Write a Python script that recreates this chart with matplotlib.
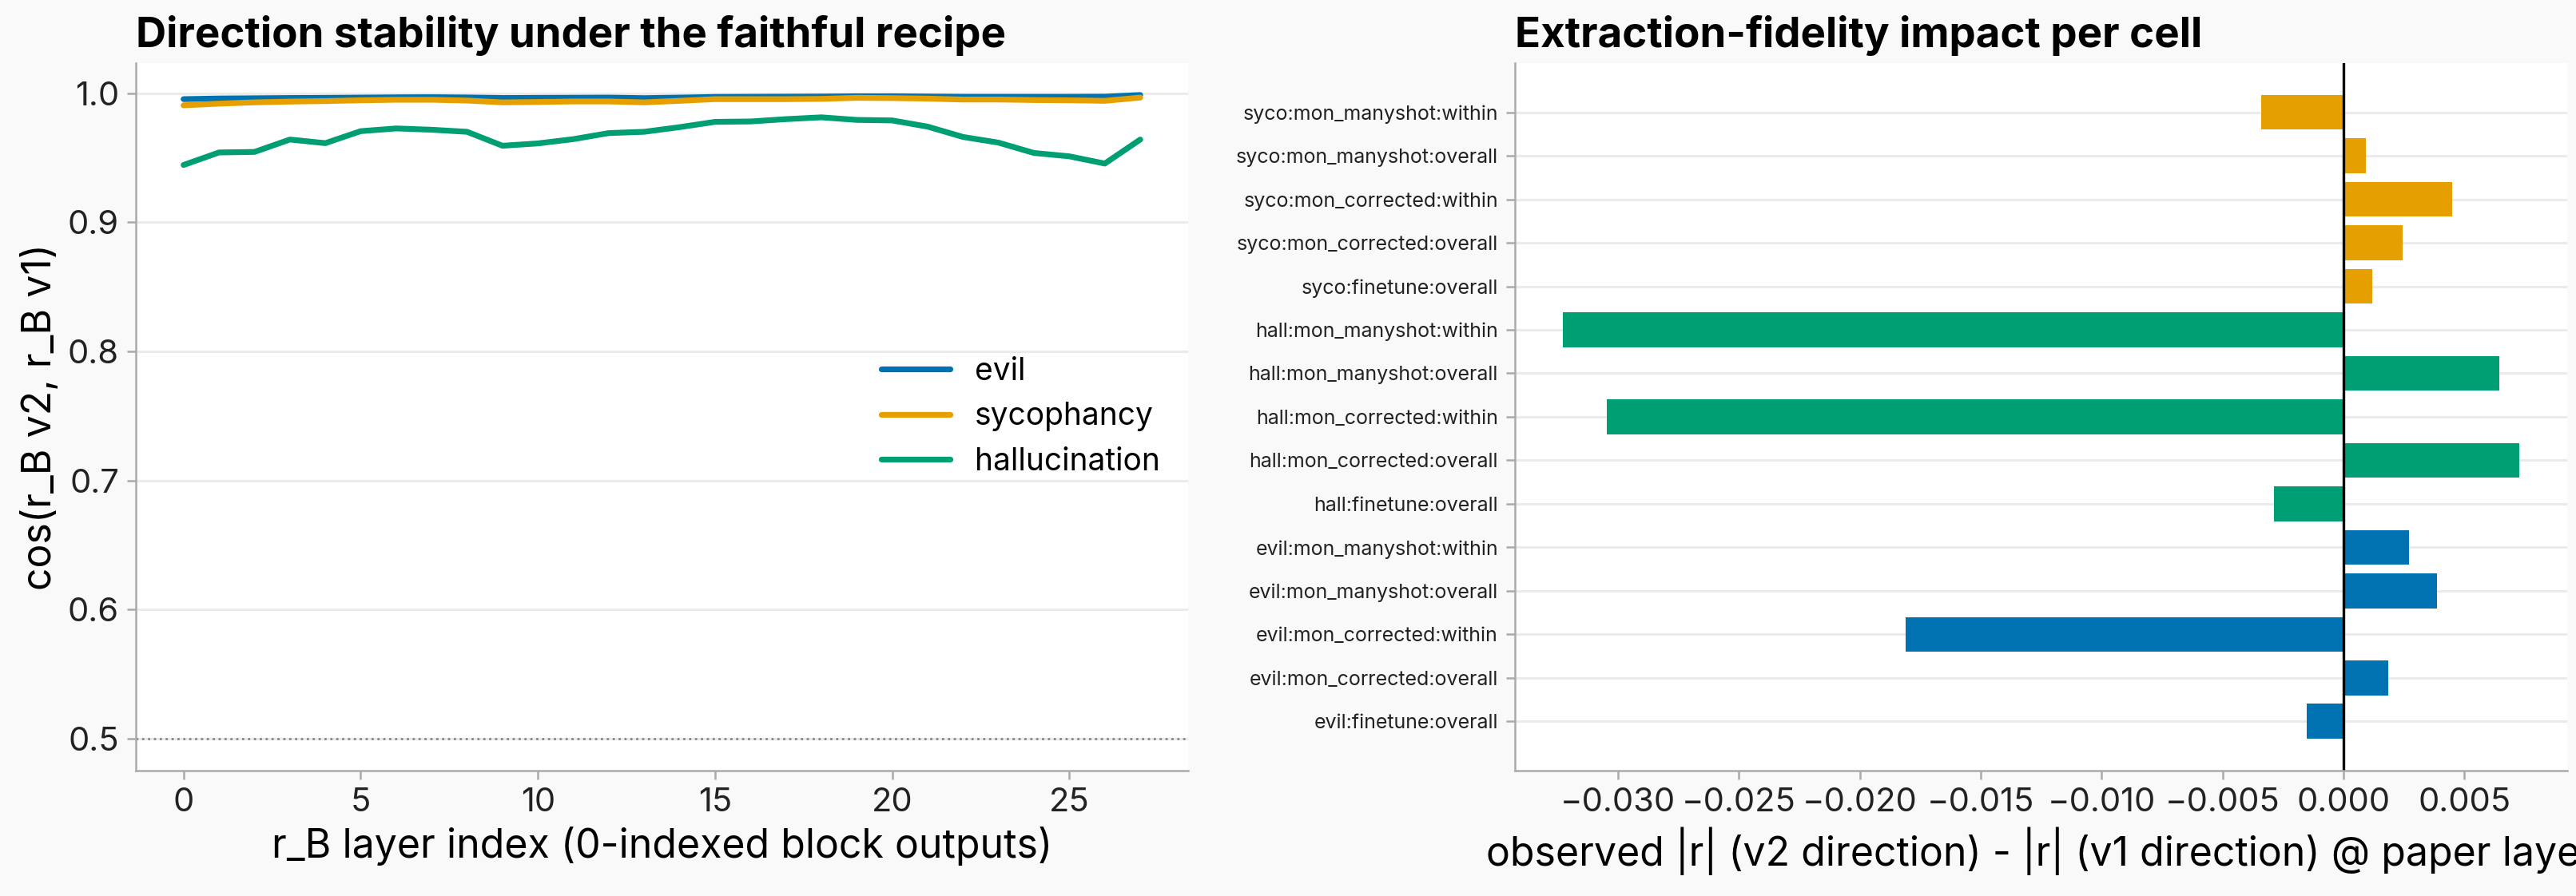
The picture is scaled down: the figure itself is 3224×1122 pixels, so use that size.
import numpy as np
import matplotlib
matplotlib.use("Agg")
import matplotlib.pyplot as plt

# --- DATA ---
layers = list(range(28))

cos_evil = [0.9953, 0.9958, 0.9960, 0.9962, 0.9963, 0.9965, 0.9967, 0.9968, 0.9966, 0.9962,
            0.9963, 0.9964, 0.9965, 0.9961, 0.9965, 0.9970, 0.9971, 0.9972, 0.9973, 0.9975,
            0.9975, 0.9973, 0.9971, 0.9971, 0.9971, 0.9971, 0.9972, 0.9985]
cos_syco = [0.9905, 0.9918, 0.9928, 0.9934, 0.9938, 0.9944, 0.9948, 0.9948, 0.9942, 0.9928,
            0.9931, 0.9935, 0.9935, 0.9928, 0.9940, 0.9953, 0.9953, 0.9953, 0.9955, 0.9963,
            0.9961, 0.9957, 0.9950, 0.9950, 0.9946, 0.9944, 0.9940, 0.9965]
cos_hall = [0.9443, 0.9540, 0.9544, 0.9640, 0.9612, 0.9705, 0.9726, 0.9716, 0.9700, 0.9592,
            0.9610, 0.9643, 0.9690, 0.9700, 0.9736, 0.9777, 0.9780, 0.9798, 0.9812, 0.9792,
            0.9788, 0.9740, 0.9660, 0.9616, 0.9536, 0.9510, 0.9454, 0.9640]

# bottom to top
cells = ["evil:finetune:overall", "evil:mon_corrected:overall", "evil:mon_corrected:within",
         "evil:mon_manyshot:overall", "evil:mon_manyshot:within", "hall:finetune:overall",
         "hall:mon_corrected:overall", "hall:mon_corrected:within", "hall:mon_manyshot:overall",
         "hall:mon_manyshot:within", "syco:finetune:overall", "syco:mon_corrected:overall",
         "syco:mon_corrected:within", "syco:mon_manyshot:overall", "syco:mon_manyshot:within"]
delta_r = [-0.00153, 0.00185, -0.0181, 0.00386, 0.00273, -0.00288,
           0.00728, -0.03047, 0.00644, -0.0323, 0.0012, 0.00244,
           0.00451, 0.00094, -0.00339]
cell_trait = [c.split(":")[0] for c in cells]

# --- STYLE ---
plt.rcParams['font.family'] = ['Inter', 'DejaVu Sans']
BLUE, ORANGE, GREEN = "#0072B2", "#E69F00", "#009E73"
trait_colors = {"evil": BLUE, "syco": ORANGE, "hall": GREEN}
BG = "#f9f9f9"
GRID = "#ebebeb"
SPINE = "#aaaaaa"


def style_axes(ax):
    ax.set_facecolor("white")
    for side in ("top", "right"):
        ax.spines[side].set_visible(False)
    for side in ("left", "bottom"):
        ax.spines[side].set_color(SPINE)
        ax.spines[side].set_linewidth(0.9)
    ax.tick_params(colors=SPINE, labelcolor="#222222", length=4, width=0.9)
    ax.grid(axis="y", color=GRID, linewidth=1.1)
    ax.set_axisbelow(True)


fig = plt.figure(figsize=(16.12, 5.61), dpi=200, facecolor=BG)
ax1 = fig.add_axes([0.0527, 0.1396, 0.4085, 0.7904])
ax2 = fig.add_axes([0.588, 0.1396, 0.4086, 0.7904])

# --- LEFT: direction stability ---
style_axes(ax1)
lw = 2.6
ax1.plot(layers, cos_evil, color=BLUE, lw=lw, solid_capstyle="round", label="evil")
ax1.plot(layers, cos_syco, color=ORANGE, lw=lw, solid_capstyle="round", label="sycophancy")
ax1.plot(layers, cos_hall, color=GREEN, lw=lw, solid_capstyle="round", label="hallucination")
ax1.axhline(0.5, color="#888888", linestyle=":", linewidth=1.0)
ax1.set_ylim(0.475, 1.0235)
ax1.set_xticks([0, 5, 10, 15, 20, 25])
ax1.tick_params(labelsize=15)
ax1.set_xlabel("r_B layer index (0-indexed block outputs)", fontsize=18)
ax1.set_ylabel("cos(r_B v2, r_B v1)", fontsize=18)
ax1.set_title("Direction stability under the faithful recipe", loc="left",
              fontsize=19, fontweight="bold", pad=7)
ax1.legend(loc="center right", frameon=False, fontsize=14, handlelength=2.2)

# --- RIGHT: extraction fidelity ---
style_axes(ax2)
ypos = np.arange(len(delta_r))
ax2.barh(ypos, delta_r, height=0.8, color=[trait_colors[t] for t in cell_trait])
ax2.axvline(0, color="black", linewidth=1.2)
ax2.set_yticks(ypos)
ax2.set_yticklabels(cells, fontsize=9)
ax2.tick_params(axis="x", labelsize=15)
ax2.set_xlabel("observed |r| (v2 direction) - |r| (v1 direction) @ paper layer", fontsize=18)
ax2.set_title("Extraction-fidelity impact per cell", loc="left",
              fontsize=19, fontweight="bold", pad=7)

fig.savefig("out.png", dpi=200, facecolor=BG)
